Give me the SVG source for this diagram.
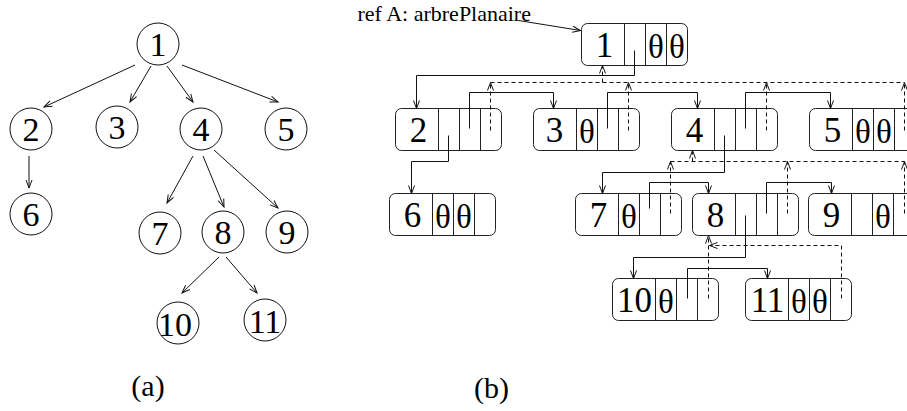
<svg xmlns="http://www.w3.org/2000/svg" width="907" height="411" viewBox="0 0 907 411">
<style>
text{font-family:"Liberation Serif","Times New Roman",serif;fill:#000}
.cn{font-size:34px;text-anchor:middle}
.bn{font-size:35px;text-anchor:middle}
.th{font-size:33px;text-anchor:middle}
.lbl{font-size:30px;text-anchor:middle}
.ref{font-size:22px}
circle{fill:none;stroke:#111;stroke-width:1}
.p{fill:none;stroke:#111;stroke-width:1;marker-end:url(#ah)}
.d{fill:none;stroke:#111;stroke-width:1;stroke-dasharray:4 3;marker-end:url(#ah)}
.dn{fill:none;stroke:#111;stroke-width:1;stroke-dasharray:4 3}
</style>
<defs>
<marker id="ah" viewBox="-9 -4 10 8" markerWidth="10" markerHeight="8" refX="0" refY="0" orient="auto" markerUnits="userSpaceOnUse">
<path d="M-8,-3 L0,0 L-8,3" fill="none" stroke="#111" stroke-width="1" stroke-dasharray="none"/>
</marker>
<g id="cells" fill="none" stroke="#222" stroke-width="1">
<rect x="0" y="0" width="106" height="42" rx="6" ry="6"/>
<line x1="43" y1="0" x2="43" y2="42"/>
<line x1="64" y1="0" x2="64" y2="42"/>
<line x1="85" y1="0" x2="85" y2="42"/>
</g>
</defs>

<!-- (a) tree -->
<g id="a-connectors">
<path class="p" d="M135,65 L44,107"/>
<path class="p" d="M151,66 L130,102"/>
<path class="p" d="M167,66 L193,102"/>
<path class="p" d="M182,65 L278,102"/>
<path class="p" d="M29,156 L29,188"/>
<path class="p" d="M193,156 L167,203"/>
<path class="p" d="M203,156 L224,207"/>
<path class="p" d="M214,150 L278,208"/>
<path class="p" d="M219,257 L182,293"/>
<path class="p" d="M226,257 L257,293"/>
</g>
<g id="a1"><circle cx="158" cy="44" r="21"/><text class="cn" x="158" y="56">1</text></g>
<g id="a2"><circle cx="31" cy="129" r="21"/><text class="cn" x="31" y="141">2</text></g>
<g id="a3"><circle cx="117" cy="127" r="21"/><text class="cn" x="117" y="139">3</text></g>
<g id="a4"><circle cx="201" cy="129" r="21"/><text class="cn" x="201" y="141">4</text></g>
<g id="a5"><circle cx="286" cy="129" r="21"/><text class="cn" x="286" y="141">5</text></g>
<g id="a6"><circle cx="31" cy="214" r="21"/><text class="cn" x="31" y="226">6</text></g>
<g id="a7"><circle cx="160" cy="233" r="21"/><text class="cn" x="160" y="245">7</text></g>
<g id="a8"><circle cx="223" cy="232" r="21"/><text class="cn" x="223" y="244">8</text></g>
<g id="a9"><circle cx="287" cy="232" r="21"/><text class="cn" x="287" y="244">9</text></g>
<g id="a10"><circle cx="178" cy="323" r="21"/><text class="cn" x="175" y="336">10</text></g>
<g id="a11"><circle cx="265" cy="320" r="21"/><text class="cn" x="265" y="333">11</text></g>
<text class="lbl" x="148" y="396">(a)</text>

<!-- (b) records -->
<g transform="translate(0.5,0.5)">
<text class="ref" x="357" y="20">ref A: arbrePlanaire</text>
<g id="b1" transform="translate(581,23)"><use href="#cells"/><text class="bn" x="23" y="33">1</text><text class="th" x="74.5" y="34">θ</text><text class="th" x="95.5" y="34">θ</text></g>
<g id="b2" transform="translate(395,108)"><use href="#cells"/><text class="bn" x="23" y="33">2</text></g>
<g id="b3" transform="translate(533,108)"><use href="#cells"/><text class="bn" x="21" y="33">3</text><text class="th" x="53.5" y="34">θ</text></g>
<g id="b4" transform="translate(671,108)"><use href="#cells"/><text class="bn" x="23" y="33">4</text></g>
<g id="b5" transform="translate(809,108)"><use href="#cells"/><text class="bn" x="23" y="33">5</text><text class="th" x="53.5" y="34">θ</text><text class="th" x="74.5" y="34">θ</text></g>
<g id="b6" transform="translate(389,193)"><use href="#cells"/><text class="bn" x="23" y="33">6</text><text class="th" x="53.5" y="34">θ</text><text class="th" x="74.5" y="34">θ</text></g>
<g id="b7" transform="translate(575,193)"><use href="#cells"/><text class="bn" x="23" y="33">7</text><text class="th" x="53.5" y="34">θ</text></g>
<g id="b8" transform="translate(692,193)"><use href="#cells"/><text class="bn" x="23" y="33">8</text></g>
<g id="b9" transform="translate(808,193)"><use href="#cells"/><text class="bn" x="23" y="33">9</text><text class="th" x="74.5" y="34">θ</text></g>
<g id="b10" transform="translate(612,278)"><use href="#cells"/><text class="bn" x="22" y="33">10</text><text class="th" x="53.5" y="34">θ</text></g>
<g id="b11" transform="translate(745,278)"><use href="#cells"/><text class="bn" x="22" y="33">11</text><text class="th" x="53.5" y="34">θ</text><text class="th" x="74.5" y="34">θ</text></g>

<g id="b-connectors">
<path class="p" d="M518,20 L580,30"/>
<path class="p" d="M634,50 V75 H416 V108"/>
<path class="p" d="M448,135 V161 H411 V193"/>
<path class="p" d="M469,128 V92 H553 V108"/>
<path class="p" d="M607,128 V92 H697 V108"/>
<path class="p" d="M745,128 V92 H830 V108"/>
<path class="p" d="M724,135 V172 H602 V193"/>
<path class="p" d="M649,208 V182 H708 V193"/>
<path class="p" d="M766,213 V182 H831 V193"/>
<path class="p" d="M745,215 V257 H633 V278"/>
<path class="p" d="M687,298 V268 H767 V278"/>

<path class="dn" d="M490,82 H904"/>
<path class="d" d="M490,130 V82"/>
<path class="d" d="M628,130 V82"/>
<path class="d" d="M766,130 V82"/>
<path class="d" d="M904,130 V82"/>
<path class="d" d="M602,82 V65"/>

<path class="dn" d="M670,161 H904"/>
<path class="d" d="M670,213 V161"/>
<path class="d" d="M787,213 V161"/>
<path class="d" d="M904,213 V161"/>
<path class="d" d="M692,161 V150"/>

<path class="d" d="M708,298 V235"/>
<path class="d" d="M841,298 V245 H709"/>
</g>
<text class="lbl" x="491" y="397">(b)</text>
</g>
</svg>
